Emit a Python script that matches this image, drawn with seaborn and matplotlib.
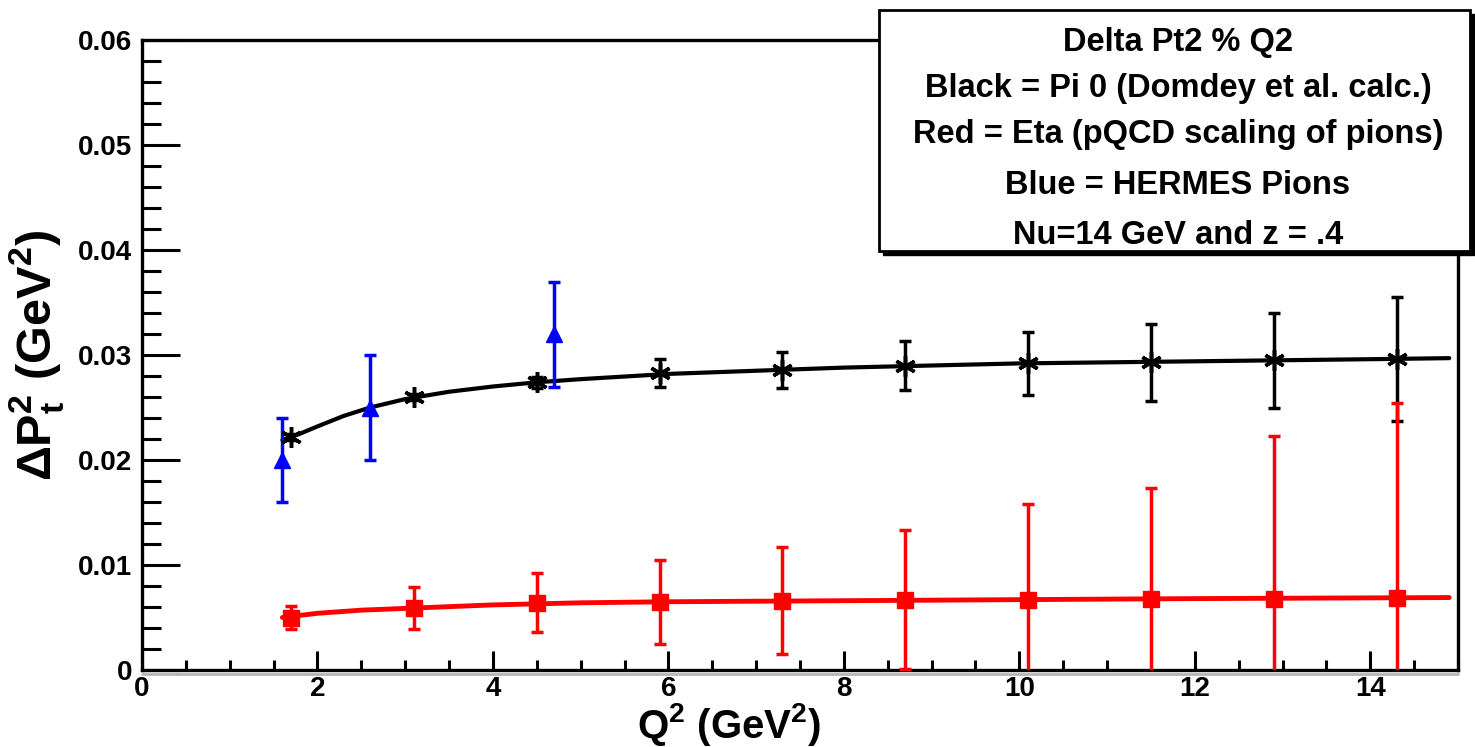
import numpy as np
import pandas as pd
import matplotlib
matplotlib.use('Agg')
import matplotlib.pyplot as plt
from matplotlib.patches import Rectangle
from matplotlib.lines import Line2D
from matplotlib.ticker import MultipleLocator, FuncFormatter
import seaborn as sns

# ---- data ----
q2_pts = [1.7, 3.1, 4.5, 5.9, 7.3, 8.7, 10.1, 11.5, 12.9, 14.3]

pi0_y   = [0.0222, 0.0260, 0.0274, 0.0283, 0.0286, 0.0290, 0.0292, 0.0293, 0.0295, 0.0296]
pi0_err = [0.0003, 0.0003, 0.0005, 0.0013, 0.0017, 0.0023, 0.0030, 0.0037, 0.0045, 0.0059]

eta_y   = [0.0050, 0.0059, 0.0064, 0.0065, 0.0066, 0.0067, 0.0067, 0.0068, 0.0068, 0.0069]
eta_err = [0.0011, 0.0020, 0.0028, 0.0040, 0.0051, 0.0066, 0.0091, 0.0105, 0.0155, 0.0185]

hermes_x   = [1.6, 2.6, 4.7]
hermes_y   = [0.020, 0.025, 0.032]
hermes_err = [0.004, 0.005, 0.005]

pi0_curve_x = [1.6, 1.8, 2.0, 2.3, 2.6, 3.0, 3.5, 4.0, 4.5, 5.0, 6.0, 7.0, 8.0,
               9.0, 10.0, 11.0, 12.0, 13.0, 14.0, 14.9]
pi0_curve_y = [0.0219, 0.0225, 0.0232, 0.0242, 0.0250, 0.0258, 0.0265, 0.0270,
               0.0274, 0.0277, 0.0282, 0.0285, 0.0288, 0.0290, 0.0292, 0.0293,
               0.0294, 0.0295, 0.0296, 0.0297]

eta_curve_x = [1.6, 2.0, 2.5, 3.1, 4.0, 5.0, 6.0, 8.0, 10.0, 12.0, 14.9]
eta_curve_y = [0.0050, 0.0054, 0.0057, 0.0059, 0.0062, 0.0064, 0.0065, 0.0066,
               0.0067, 0.0068, 0.0069]

legend_lines = ['Delta Pt2 % Q2',
                'Black = Pi 0 (Domdey et al. calc.)',
                'Red = Eta (pQCD scaling of pions)',
                'Blue = HERMES Pions',
                'Nu=14 GeV and z = .4']

# ---- style ----
sns.set_theme(style='white')
plt.rcParams['font.family'] = ['Liberation Sans', 'DejaVu Sans']
plt.rcParams['mathtext.fontset'] = 'custom'
plt.rcParams['mathtext.rm'] = 'Liberation Sans:bold'
plt.rcParams['mathtext.bf'] = 'Liberation Sans:bold'
plt.rcParams['mathtext.it'] = 'Liberation Sans:bold'
for key in ['text.color', 'axes.labelcolor', 'xtick.color', 'ytick.color']:
    plt.rcParams[key] = 'black'

fig = plt.figure(figsize=(14.75, 7.47), dpi=100)
ax = fig.add_axes([142 / 1475, 1 - 670 / 747, 1316 / 1475, 630 / 747])

pi0_curve = pd.DataFrame({'x': pi0_curve_x, 'y': pi0_curve_y})
eta_curve = pd.DataFrame({'x': eta_curve_x, 'y': eta_curve_y})
sns.lineplot(data=pi0_curve, x='x', y='y', color='black', lw=3, ax=ax, zorder=2)
sns.lineplot(data=eta_curve, x='x', y='y', color='red', lw=3.5, ax=ax, zorder=2)

ax.errorbar(q2_pts, pi0_y, yerr=pi0_err, fmt='none', ecolor='black',
            elinewidth=2.5, capsize=4, capthick=2.5, zorder=3)
ax.errorbar(q2_pts, eta_y, yerr=eta_err, fmt='none', ecolor='red',
            elinewidth=2.5, capsize=4, capthick=2.5, zorder=3)
ax.errorbar(hermes_x, hermes_y, yerr=hermes_err, fmt='none', ecolor='blue',
            elinewidth=2.5, capsize=4, capthick=2.5, zorder=3)

ax.plot(q2_pts, pi0_y, ls='none', marker=(6, 2, 0), ms=15, mew=2.5,
        color='black', zorder=4)
ax.plot(q2_pts, eta_y, ls='none', marker='s', ms=12, color='red', zorder=4)
ax.plot(hermes_x, hermes_y, ls='none', marker='^', ms=12, color='blue', zorder=4)

ax.set_xlim(0, 15)
ax.set_ylim(0, 0.06)
ax.xaxis.set_major_locator(MultipleLocator(2))
ax.xaxis.set_minor_locator(MultipleLocator(0.5))
ax.yaxis.set_major_locator(MultipleLocator(0.01))
ax.yaxis.set_minor_locator(MultipleLocator(0.002))
ax.yaxis.set_major_formatter(FuncFormatter(lambda v, p: f'{v:g}'))
ax.xaxis.set_major_formatter(FuncFormatter(lambda v, p: f'{v:g}'))

ax.tick_params(axis='y', which='major', direction='in', length=27, width=2.2,
               labelsize=20, pad=7, left=True, right=False)
ax.tick_params(axis='y', which='minor', direction='in', length=14, width=2.2,
               left=True, right=False)
ax.tick_params(axis='x', which='major', direction='in', length=14, width=2.2,
               labelsize=20, pad=4, bottom=True, top=False)
ax.tick_params(axis='x', which='minor', direction='in', length=7, width=2.2,
               bottom=True, top=False)
for lab in ax.get_xticklabels() + ax.get_yticklabels():
    lab.set_fontweight('bold')

for sp in ax.spines.values():
    sp.set_linewidth(2.4)
    sp.set_color('black')

# faint grey shadow under the x axis
fig.add_artist(Line2D([142 / 1475, 1458 / 1475], [1 - 673.5 / 747] * 2,
                      color='#b5b5b5', lw=2, transform=fig.transFigure))

ax.set_xlabel(r'Q$^{\mathbf{2}}$ (GeV$^{\mathbf{2}}$)', fontsize=29,
              fontweight='bold')
ax.set_ylabel(r'$\mathbf{\Delta P_{t}^{2}}$ (GeV$^{\mathbf{2}}$)', fontsize=35,
              fontweight='bold')
ax.xaxis.set_label_coords(0.446, -0.049)
ax.yaxis.set_label_coords(-0.058, 0.5)

# ---- text box (ROOT pave with shadow) ----
bx0, by0, bw, bh = 879 / 1475, 1 - 251 / 747, 591 / 1475, 241 / 747
fig.patches.append(Rectangle((bx0 + 4 / 1475, by0 - 4 / 747), bw, bh,
                             transform=fig.transFigure, facecolor='black',
                             edgecolor='black', zorder=5))
fig.patches.append(Rectangle((bx0, by0), bw, bh, transform=fig.transFigure,
                             facecolor='white', edgecolor='black', lw=2,
                             zorder=6))
line_y = [43, 88, 135, 186, 236]
for txt, yy in zip(legend_lines, line_y):
    fig.text(1178 / 1475, 1 - yy / 747, txt, ha='center', va='center',
             fontsize=23.5, fontweight='bold', zorder=7)

fig.savefig('out.png', dpi=100)
